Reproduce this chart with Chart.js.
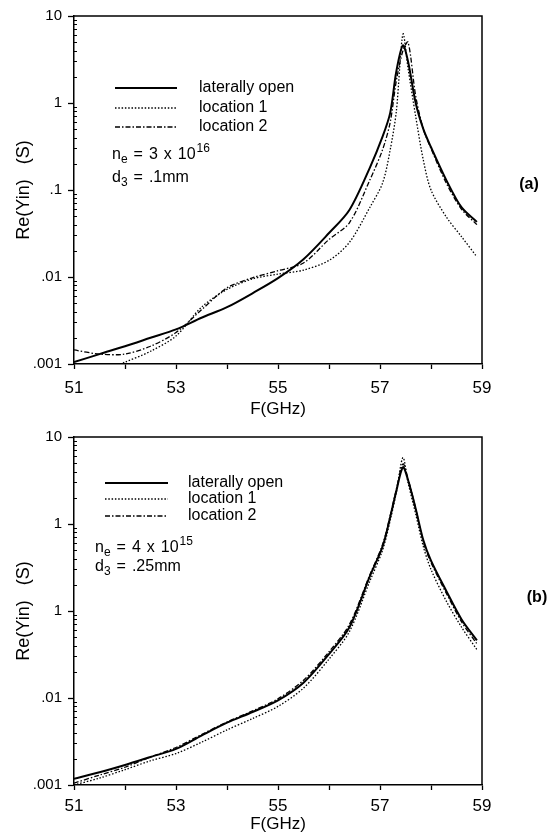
<!DOCTYPE html>
<html>
<head>
<meta charset="utf-8">
<script src="https://cdn.jsdelivr.net/npm/chart.js@4/dist/chart.umd.min.js"></script>
<style>
  body { margin: 0; background: #fff; }
  canvas { position: absolute; left: 0; }
</style>
</head>
<body>
<canvas id="chartA" width="555" height="422" style="top:0"></canvas>
<canvas id="chartB" width="555" height="413" style="top:422px"></canvas>
<script>
// frequency grid (GHz)
const freq = [51, 51.5, 52, 52.5, 53, 53.5, 54, 54.5, 55, 55.5, 56, 56.4, 56.8, 57.05, 57.2, 57.32, 57.45, 57.55, 57.7, 57.85, 58, 58.3, 58.6, 58.9];

// panel (a)
const openA = [0.00105, 0.0013, 0.0016, 0.002, 0.0025, 0.0034, 0.0045, 0.0065, 0.0097, 0.016, 0.032, 0.059, 0.18, 0.41, 0.77, 2.3, 4.6, 3.0, 1.0, 0.5, 0.31, 0.13, 0.063, 0.043];
const loc1A = [0.0006, 0.0008, 0.00105, 0.0014, 0.0021, 0.0045, 0.0072, 0.0095, 0.0108, 0.012, 0.0155, 0.025, 0.063, 0.12, 0.29, 0.8, 6.2, 2.5, 0.7, 0.22, 0.1, 0.049, 0.029, 0.017];
const loc2A = [0.00145, 0.0013, 0.0013, 0.0016, 0.0023, 0.0042, 0.0075, 0.0098, 0.0118, 0.0145, 0.027, 0.042, 0.13, 0.29, 0.6, 1.8, 4.0, 5.0, 1.2, 0.5, 0.3, 0.12, 0.06, 0.04];

// panel (b)
const openB = [0.00118, 0.0014, 0.0017, 0.0021, 0.0026, 0.0037, 0.0052, 0.0069, 0.0094, 0.015, 0.032, 0.065, 0.25, 0.55, 1.2, 2.4, 4.5, 3.2, 1.5, 0.65, 0.38, 0.17, 0.08, 0.046];
const loc1B = [0.001, 0.0012, 0.0015, 0.0019, 0.0023, 0.0031, 0.0043, 0.0058, 0.008, 0.013, 0.028, 0.058, 0.22, 0.5, 1.1, 2.3, 5.8, 3.0, 1.3, 0.55, 0.3, 0.13, 0.065, 0.036];
const loc2B = [0.00105, 0.0013, 0.0016, 0.0021, 0.0027, 0.0038, 0.0053, 0.0071, 0.0098, 0.016, 0.034, 0.07, 0.26, 0.58, 1.25, 2.5, 4.9, 3.3, 1.5, 0.62, 0.36, 0.16, 0.075, 0.042];

const seriesNames = ['laterally open', 'location 1', 'location 2'];
const yTicks = [0.001, 0.01, 0.1, 1, 10];
const yLabelsA = ['.001', '.01', '.1', '1', '10'];
const yLabelsB = ['.001', '.01', '1', '1', '10'];
const xTicks = [51, 52, 53, 54, 55, 56, 57, 58, 59];
const xLabels = ['51', '', '53', '', '55', '', '57', '', '59'];

const FONT = '"Liberation Sans", Arial, sans-serif';
const lineStyles = [
  { borderWidth: 2, borderDash: [] },
  { borderWidth: 1.3, borderDash: [1.5, 1.8] },
  { borderWidth: 1.3, borderDash: [5, 2, 1.5, 2] }
];

// text with sub/superscripts, small gaps between tokens like the scan
function drawRich(ctx, x, y, parts) {
  parts.forEach(p => {
    if (p.sub) {
      ctx.font = '12px ' + FONT;
      ctx.fillText(p.t, x, y + 5);
    } else if (p.sup) {
      ctx.font = '12px ' + FONT;
      ctx.fillText(p.t, x + 1, y - 6);
    } else {
      ctx.font = '16px ' + FONT;
      ctx.fillText(p.t, x, y);
    }
    x += ctx.measureText(p.t).width + (p.gap || 0);
  });
}

function panelPlugin(opt) {
  return {
    id: 'panel' + opt.tag,
    afterDraw(chart) {
      const ctx = chart.ctx;
      const area = chart.chartArea;
      const y = chart.scales.y;
      ctx.save();
      // frame: top and right
      ctx.strokeStyle = '#000';
      ctx.lineWidth = 1.5;
      ctx.beginPath();
      ctx.moveTo(area.left, area.top);
      ctx.lineTo(area.right, area.top);
      ctx.lineTo(area.right, area.bottom);
      ctx.stroke();
      // minor ticks on the left axis
      ctx.lineWidth = 1;
      for (let d = 0; d < yTicks.length - 1; d++) {
        for (let m = 2; m <= 9; m++) {
          const py = Math.round(y.getPixelForValue(yTicks[d] * m)) + 0.5;
          ctx.beginPath();
          ctx.moveTo(area.left, py);
          ctx.lineTo(area.left + 3, py);
          ctx.stroke();
        }
      }
      // legend
      ctx.fillStyle = '#000';
      ctx.textBaseline = 'middle';
      chart.data.datasets.forEach((ds, i) => {
        const ly = opt.rows[i];
        ctx.strokeStyle = '#000';
        ctx.lineWidth = ds.borderWidth;
        ctx.setLineDash(ds.borderDash);
        ctx.beginPath();
        ctx.moveTo(opt.lineX0, ly);
        ctx.lineTo(opt.lineX1, ly);
        ctx.stroke();
        ctx.setLineDash([]);
        ctx.font = '16px ' + FONT;
        ctx.fillText(ds.label, opt.textX, ly);
      });
      drawRich(ctx, opt.noteX, opt.neY, [
        { t: 'n' }, { t: 'e', sub: true, gap: 6 }, { t: '=', gap: 6 }, { t: opt.neMant, gap: 6 },
        { t: 'x', gap: 6 }, { t: '10' }, { t: opt.neExp, sup: true }
      ]);
      drawRich(ctx, opt.noteX, opt.dY, [
        { t: 'd' }, { t: '3', sub: true, gap: 6 }, { t: '=', gap: 6 }, { t: opt.d3 }
      ]);
      // panel tag
      ctx.font = 'bold 16px ' + FONT;
      ctx.textAlign = 'center';
      ctx.fillText(opt.tag, opt.tagX, opt.tagY);
      ctx.restore();
    }
  };
}

function makePanel(id, series, yLabels, opt) {
  const datasets = series.map((vals, i) => ({
    label: seriesNames[i],
    data: freq.map((f, k) => ({ x: f, y: vals[k] })),
    borderColor: '#000',
    borderWidth: lineStyles[i].borderWidth,
    borderDash: lineStyles[i].borderDash,
    pointRadius: 0,
    tension: 0.3,
    fill: false
  }));
  return new Chart(document.getElementById(id), {
    type: 'line',
    data: { datasets },
    plugins: [panelPlugin(opt)],
    options: {
      responsive: false,
      animation: false,
      layout: { padding: { top: opt.padTop, right: 73, left: 0, bottom: 0 } },
      plugins: { legend: { display: false }, tooltip: { enabled: false } },
      scales: {
        x: {
          type: 'linear',
          min: 51,
          max: 59,
          afterFit: s => { s.height = opt.xHeight; },
          afterBuildTicks: s => { s.ticks = xTicks.map(v => ({ value: v })); },
          ticks: {
            autoSkip: false,
            maxRotation: 0,
            padding: opt.xPad,
            color: '#000',
            font: { family: FONT, size: 17 },
            callback: (v, i) => xLabels[i]
          },
          grid: { drawOnChartArea: false, tickLength: 5, tickColor: '#000', tickWidth: 1.3 },
          border: { color: '#000', width: 1.5 },
          title: {
            display: true,
            text: 'F(GHz)',
            color: '#000',
            font: { family: FONT, size: 17 },
            padding: { top: 0, bottom: opt.xTitlePad }
          }
        },
        y: {
          type: 'logarithmic',
          min: 0.001,
          max: 10,
          afterFit: s => { s.width = 74; },
          afterBuildTicks: s => { s.ticks = yTicks.map(v => ({ value: v })); },
          ticks: {
            autoSkip: false,
            padding: 6,
            color: '#000',
            font: { family: FONT, size: 15 },
            callback: (v, i) => yLabels[i]
          },
          grid: { drawOnChartArea: false, tickLength: 6, tickColor: '#000', tickWidth: 1.3 },
          border: { color: '#000', width: 1.5 },
          title: {
            display: true,
            text: 'Re(Yin)   (S)',
            color: '#000',
            font: { family: FONT, size: 18 },
            padding: { top: 13, bottom: 0 }
          }
        }
      }
    }
  });
}

makePanel('chartA', [openA, loc1A, loc2A], yLabelsA, {
  tag: '(a)', tagX: 529, tagY: 185,
  padTop: 16, xHeight: 58, xPad: 9, xTitlePad: 2,
  lineX0: 115, lineX1: 177, textX: 199, rows: [88, 108, 127],
  noteX: 112, neY: 155, dY: 178, neMant: '3', neExp: '16', d3: '.1mm'
});

makePanel('chartB', [openB, loc1B, loc2B], yLabelsB, {
  tag: '(b)', tagX: 537, tagY: 176,
  padTop: 14, xHeight: 50, xPad: 6, xTitlePad: 0,
  lineX0: 105, lineX1: 168, textX: 188, rows: [61, 77, 94],
  noteX: 95, neY: 126, dY: 145, neMant: '4', neExp: '15', d3: '.25mm'
});
</script>
</body>
</html>
